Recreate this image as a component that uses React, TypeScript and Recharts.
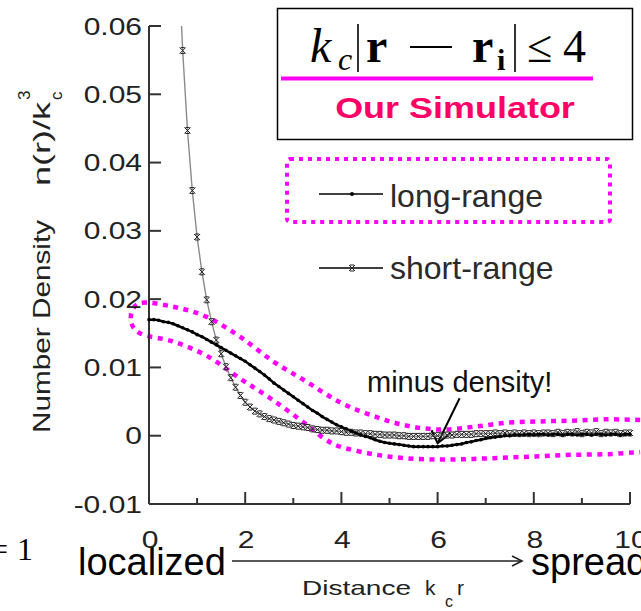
import React from 'react';
import * as RC from 'recharts';

const { LineChart, Line, XAxis, YAxis, Customized } = RC as any;
const usePA: any = (RC as any).usePlotArea;

// ---------------- data ----------------
const distance = [
  0.0, 0.1, 0.2, 0.3, 0.4, 0.5, 0.6, 0.7, 0.8, 0.9,
  1.0, 1.1, 1.2, 1.3, 1.4, 1.5, 1.6, 1.7, 1.8, 1.9,
  2.0, 2.1, 2.2, 2.3, 2.4, 2.5, 2.6, 2.7, 2.8, 2.9,
  3.0, 3.1, 3.2, 3.3, 3.4, 3.5, 3.6, 3.7, 3.8, 3.9,
  4.0, 4.1, 4.2, 4.3, 4.4, 4.5, 4.6, 4.7, 4.8, 4.9,
  5.0, 5.1, 5.2, 5.3, 5.4, 5.5, 5.6, 5.7, 5.8, 5.9,
  6.0, 6.1, 6.2, 6.3, 6.4, 6.5, 6.6, 6.7, 6.8, 6.9,
  7.0, 7.1, 7.2, 7.3, 7.4, 7.5, 7.6, 7.7, 7.8, 7.9,
  8.0, 8.1, 8.2, 8.3, 8.4, 8.5, 8.6, 8.7, 8.8, 8.9,
  9.0, 9.1, 9.2, 9.3, 9.4, 9.5, 9.6, 9.7, 9.8, 9.9,
  10.0,
];

const longRange = [
  0.0170, 0.0170, 0.0169, 0.0167, 0.0166, 0.0164, 0.0161, 0.0158, 0.0155, 0.0152,
  0.0148, 0.0145, 0.0141, 0.0137, 0.0133, 0.0129, 0.0125, 0.0121, 0.0117, 0.0113,
  0.0109, 0.0104, 0.0099, 0.0094, 0.0089, 0.0083, 0.0077, 0.0072, 0.0067, 0.0062,
  0.0057, 0.0052, 0.0047, 0.0042, 0.0037, 0.0033, 0.0028, 0.0024, 0.0020, 0.0016,
  0.0013, 0.0010, 0.0007, 0.0004, 0.0001, -0.0001, -0.0003, -0.0006, -0.0008, -0.0010,
  -0.0011, -0.0012, -0.0013, -0.0014, -0.0015, -0.0016, -0.0016, -0.0016, -0.0016, -0.0016,
  -0.0016, -0.0015, -0.0015, -0.0014, -0.0013, -0.0012, -0.0010, -0.0009, -0.0007, -0.0006,
  -0.0004, -0.0003, -0.0002, -0.0001, 0.0000, 0.0000, 0.0001, 0.0001, 0.0001, 0.0002,
  0.0001, 0.0002, 0.0002, 0.0001, 0.0002, 0.0002, 0.0001, 0.0002, 0.0002, 0.0001,
  0.0002, 0.0002, 0.0001, 0.0002, 0.0002, 0.0001, 0.0002, 0.0002, 0.0001, 0.0002,
  0.0002,
];

const shortRange = [
  null, null, null, null, null, null, 0.0720, 0.0564, 0.0447, 0.0359,
  0.0291, 0.0240, 0.0199, 0.0167, 0.0140, 0.0120, 0.0101, 0.0085, 0.0071, 0.0059,
  0.0049, 0.0042, 0.0036, 0.0032, 0.0028, 0.0025, 0.0023, 0.0021, 0.0019, 0.0017,
  0.0015, 0.0014, 0.0013, 0.0012, 0.0010, 0.0009, 0.0008, 0.0008, 0.0007, 0.0007,
  0.0006, 0.0005, 0.0005, 0.0004, 0.0004, 0.0003, 0.0003, 0.0002, 0.0002, 0.0001,
  0.0001, 0.0001, 0.0000, 0.0000, -0.0001, -0.0001, -0.0001, -0.0001, -0.0001, 0.0000,
  0.0000, 0.0001, 0.0001, 0.0001, 0.0002, 0.0002, 0.0002, 0.0002, 0.0003, 0.0003,
  0.0003, 0.0003, 0.0004, 0.0003, 0.0004, 0.0003, 0.0004, 0.0003, 0.0004, 0.0003,
  0.0004, 0.0003, 0.0004, 0.0004, 0.0003, 0.0005, 0.0003, 0.0005, 0.0004, 0.0006,
  0.0003, 0.0005, 0.0004, 0.0006, 0.0003, 0.0005, 0.0004, 0.0005, 0.0003, 0.0004,
  0.0004,
];

const xTicks = [0, 1, 2, 3, 4, 5, 6, 7, 8, 9, 10];
const xTickLabels = ['0', '', '2', '', '4', '', '6', '', '8', '', '10'];
const yTicks = [-0.01, 0, 0.01, 0.02, 0.03, 0.04, 0.05, 0.06];
const yTickLabels = ['-0.01', '0', '0.01', '0.02', '0.03', '0.04', '0.05', '0.06'];
const X_DOMAIN = [0, 10];
const Y_DOMAIN = [-0.01, 0.06];

// magenta dotted band around the curves (data coordinates)
const bandR = [
  10.21, 9.52, 8.81, 8.13, 7.44, 6.74, 6.05, 5.34, 4.66, 3.97, 3.28, 2.58, 1.89, 1.2, 0.5, -0.19,
  -0.38,
  -0.19, 0.5, 1.2, 1.89, 2.58, 3.28, 3.62, 3.97, 4.66, 5.34, 6.05, 6.74, 7.44, 8.13, 8.81, 9.52, 10.21,
];
const bandV = [
  0.0023, 0.0024, 0.0022, 0.0021, 0.0019, 0.0013, 0.0009, 0.0015, 0.0029, 0.0049, 0.0079, 0.0109, 0.0145, 0.0174, 0.0189, 0.0194,
  0.0172,
  0.0150, 0.0138, 0.0117, 0.0084, 0.0052, 0.0016, -0.0003, -0.0016, -0.0027, -0.0033, -0.0035, -0.0034, -0.0032, -0.0030, -0.0028, -0.0027, -0.0024,
];

const seriesNames = ['long-range', 'short-range'];

const rows = distance.map((r, i) => ({ r, long: longRange[i], short: shortRange[i] }));

// ---------------- styles ----------------
const SANS = '"Liberation Sans", Arial, Helvetica, sans-serif';
const SERIF = '"Liberation Serif", "Times New Roman", serif';
const AXIS = '#333';
const MAGENTA = '#ff00ff';

function smoothPath(pts: number[][]) {
  let d = `M${pts[0][0].toFixed(1)},${pts[0][1].toFixed(1)}`;
  for (let i = 0; i < pts.length - 1; i++) {
    const p0 = pts[i - 1] || pts[i];
    const p1 = pts[i];
    const p2 = pts[i + 1];
    const p3 = pts[i + 2] || p2;
    const c1x = p1[0] + (p2[0] - p0[0]) / 6;
    const c1y = p1[1] + (p2[1] - p0[1]) / 6;
    const c2x = p2[0] - (p3[0] - p1[0]) / 6;
    const c2y = p2[1] - (p3[1] - p1[1]) / 6;
    d += ` C${c1x.toFixed(1)},${c1y.toFixed(1)} ${c2x.toFixed(1)},${c2y.toFixed(1)} ${p2[0].toFixed(1)},${p2[1].toFixed(1)}`;
  }
  return d;
}

// ---------------- ticks ----------------
const LeftTick = (props: any) => {
  const { x, y, payload } = props;
  const i = yTicks.findIndex((t) => Math.abs(t - payload.value) < 1e-9);
  return (
    <g>
      <line x1={x} x2={x + 12} y1={y} y2={y} stroke={AXIS} strokeWidth={2} />
      <text
        transform={`translate(${x - 7},${y + 8.5}) scale(1.25,1)`}
        textAnchor="end"
        fontFamily={SANS}
        fontSize={24}
        fill="#222"
      >
        {yTickLabels[i]}
      </text>
    </g>
  );
};

const RightTick = (props: any) => {
  const { x, y } = props;
  return <line x1={x} x2={x - 12} y1={y} y2={y} stroke={AXIS} strokeWidth={2} />;
};

const BottomTick = (props: any) => {
  const { x, y, payload } = props;
  const i = xTicks.indexOf(payload.value);
  const major = payload.value % 2 === 0;
  return (
    <g>
      <line x1={x} x2={x} y1={y} y2={y - (major ? 12 : 6)} stroke={AXIS} strokeWidth={2} />
      {xTickLabels[i] ? (
        <text
          transform={`translate(${x + 1},${y + 44}) scale(1.25,1)`}
          textAnchor="middle"
          fontFamily={SANS}
          fontSize={24}
          fill="#222"
        >
          {xTickLabels[i]}
        </text>
      ) : null}
    </g>
  );
};

const TopTick = (props: any) => {
  const { x, y, payload } = props;
  const major = payload.value % 2 === 0;
  return <line x1={x} x2={x} y1={y} y2={y + (major ? 13 : 7)} stroke={AXIS} strokeWidth={2} />;
};

// ---------------- markers ----------------
const LongDot = (props: any) => {
  const { cx, cy } = props;
  if (cx == null || cy == null || isNaN(cy)) return null;
  return <circle cx={cx} cy={cy} r={1.8} fill="#000" />;
};

const ShortDot = (props: any) => {
  const { cx, cy } = props;
  if (cx == null || cy == null || isNaN(cy)) return null;
  const s = 3;
  return (
    <path
      d={`M${cx - s},${cy - s} L${cx + s},${cy + s} M${cx + s},${cy - s} L${cx - s},${cy + s} M${cx - s * 0.7},${cy - s} L${cx + s * 0.7},${cy - s} M${cx - s * 0.7},${cy + s} L${cx + s * 0.7},${cy + s}`}
      stroke="#222"
      strokeWidth={1}
      fill="none"
    />
  );
};

// ---------------- overlay (annotations) ----------------
function Overlay() {
  const pa = usePA ? usePA() : null;
  const area = pa && pa.width ? pa : { x: 149, y: 26, width: 481, height: 478 };
  const sx = (r: number) => area.x + ((r - X_DOMAIN[0]) / (X_DOMAIN[1] - X_DOMAIN[0])) * area.width;
  const sy = (v: number) => area.y + ((Y_DOMAIN[1] - v) / (Y_DOMAIN[1] - Y_DOMAIN[0])) * area.height;

  const bandPts = bandR.map((r, i) => [sx(r), sy(bandV[i])]);
  const tipX = sx(6.0);
  const tipY = sy(-0.0011);

  return (
    <g>
      {/* formula / title box */}
      <rect x={296} y={12} width={301} height={61} fill="#fff" />
      <rect x={277.5} y={8.5} width={355} height={131} fill="none" stroke="#000" strokeWidth={1.5} />
      <text x={310} y={62} fontFamily={SERIF} fontStyle="italic" fontSize={48} fill="#000">k</text>
      <text x={338} y={70} fontFamily={SERIF} fontStyle="italic" fontSize={32} fill="#000">c</text>
      <line x1={358} x2={358} y1={24} y2={72} stroke="#000" strokeWidth={1.6} />
      <text x={366} y={62} fontFamily={SERIF} fontWeight="bold" fontSize={48} fill="#000">r</text>
      <line x1={410} x2={452} y1={47} y2={47} stroke="#000" strokeWidth={1.8} />
      <text x={472} y={62} fontFamily={SERIF} fontWeight="bold" fontSize={48} fill="#000">r</text>
      <text x={497} y={70} fontFamily={SERIF} fontWeight="bold" fontSize={30} fill="#000">i</text>
      <line x1={515} x2={515} y1={24} y2={72} stroke="#000" strokeWidth={1.6} />
      <text x={527} y={62} fontFamily={SERIF} fontSize={46} fill="#000">≤</text>
      <text x={563} y={62} fontFamily={SERIF} fontSize={46} fill="#000">4</text>
      <line x1={281} x2={593} y1={78.5} y2={78.5} stroke={MAGENTA} strokeWidth={4} />
      <text
        transform="translate(455,118) scale(1.24,1)"
        textAnchor="middle"
        fontFamily={SANS}
        fontWeight="bold"
        fontSize={29}
        fill="#ff0066"
      >
        Our Simulator
      </text>

      {/* legend */}
      <rect x={287} y={159} width={323} height={63} rx={3} fill="none" stroke={MAGENTA} strokeWidth={4} strokeDasharray="4 5" />
      <line x1={319} x2={383} y1={194} y2={194} stroke="#000" strokeWidth={1.6} />
      <circle cx={352} cy={194} r={2} fill="#000" />
      <text x={390} y={207} fontFamily={SANS} fontSize={32} fill="#2a2a2a">{seriesNames[0]}</text>
      <line x1={319} x2={383} y1={268} y2={268} stroke="#000" strokeWidth={1.6} />
      <ShortDot cx={352} cy={268} />
      <text x={390} y={279} fontFamily={SANS} fontSize={32} fill="#2a2a2a">{seriesNames[1]}</text>

      {/* dotted band */}
      <path d={smoothPath(bandPts)} fill="none" stroke={MAGENTA} strokeWidth={4.5} strokeDasharray="5 5.5" />

      {/* minus density annotation */}
      <text x={367} y={392} fontFamily={SANS} fontSize={29} fill="#111">minus density!</text>
      <line x1={tipX + 22} y1={tipY - 45} x2={tipX} y2={tipY} stroke="#000" strokeWidth={2} />
      <polyline
        points={`${tipX - 6},${tipY - 13} ${tipX},${tipY} ${tipX + 13},${tipY - 10}`}
        fill="none"
        stroke="#000"
        strokeWidth={2}
      />

      {/* y axis title */}
      <text
        transform="translate(50,433) rotate(-90)"
        fontFamily={SANS}
        fontSize={24}
        fill="#222"
        textLength={213}
        lengthAdjust="spacingAndGlyphs"
      >
        Number  Density
      </text>
      <g transform="translate(50,186) rotate(-90)">
        <text x={0} y={0} fontFamily={SANS} fontSize={24} fill="#222" textLength={84} lengthAdjust="spacingAndGlyphs">
          n(r)/k
        </text>
        <text x={86} y={12} fontFamily={SANS} fontSize={17} fill="#222">c</text>
        <text x={86} y={-20} fontFamily={SANS} fontSize={17} fill="#222">3</text>
      </g>

      {/* x axis title and arrow */}
      <text x={-10} y={560} fontFamily={SERIF} fontSize={32} fill="#000">=</text>
      <text x={17} y={560} fontFamily={SERIF} fontSize={32} fill="#000">1</text>
      <text x={78} y={575} fontFamily={SANS} fontSize={38} fill="#000">localized</text>
      <line x1={232} x2={521} y1={561} y2={561} stroke="#222" strokeWidth={1.6} />
      <polyline points="512,556 522,561 512,566" fill="none" stroke="#222" strokeWidth={1.6} />
      <text x={531} y={575} fontFamily={SANS} fontSize={38} fill="#000">spread</text>
      <text x={302} y={595} fontFamily={SANS} fontSize={21} fill="#222" textLength={109} lengthAdjust="spacingAndGlyphs">
        Distance
      </text>
      <text x={425} y={595} fontFamily={SANS} fontSize={21} fill="#222">k</text>
      <text x={445} y={607} fontFamily={SANS} fontSize={16} fill="#222">c</text>
      <text x={457} y={595} fontFamily={SANS} fontSize={21} fill="#222">r</text>
    </g>
  );
}

export default function App() {
  return (
    <div style={{ position: 'absolute', left: 0, top: 0, width: 641, height: 611, background: '#fff' }}>
      <LineChart
        width={641}
        height={611}
        data={rows}
        margin={{ top: 26, right: 11, left: 0, bottom: 67 }}
      >
        <XAxis
          dataKey="r"
          type="number"
          domain={X_DOMAIN}
          ticks={xTicks}
          interval={0}
          height={40}
          tickSize={0}
          tickMargin={0}
          tickLine={false}
          axisLine={{ stroke: AXIS, strokeWidth: 2 }}
          tick={<BottomTick />}
        />
        <XAxis
          xAxisId="top"
          orientation="top"
          type="number"
          domain={X_DOMAIN}
          ticks={xTicks}
          interval={0}
          height={0}
          tickSize={0}
          tickMargin={0}
          tickLine={false}
          axisLine={{ stroke: AXIS, strokeWidth: 2 }}
          tick={<TopTick />}
        />
        <YAxis
          type="number"
          domain={Y_DOMAIN}
          ticks={yTicks}
          interval={0}
          width={149}
          allowDataOverflow
          tickSize={0}
          tickMargin={0}
          tickLine={false}
          axisLine={{ stroke: AXIS, strokeWidth: 2 }}
          tick={<LeftTick />}
        />
        <YAxis
          yAxisId="right"
          orientation="right"
          type="number"
          domain={Y_DOMAIN}
          ticks={yTicks}
          interval={0}
          width={0}
          tickSize={0}
          tickMargin={0}
          tickLine={false}
          axisLine={{ stroke: AXIS, strokeWidth: 2 }}
          tick={<RightTick />}
        />
        <Line
          dataKey="short"
          name={seriesNames[1]}
          stroke="#8a8a8a"
          strokeWidth={1.4}
          dot={<ShortDot />}
          isAnimationActive={false}
          connectNulls={false}
        />
        <Line
          dataKey="long"
          name={seriesNames[0]}
          stroke="#000"
          strokeWidth={2.5}
          dot={<LongDot />}
          isAnimationActive={false}
        />
        {Customized ? <Customized component={Overlay} /> : <Overlay />}
      </LineChart>
    </div>
  );
}
